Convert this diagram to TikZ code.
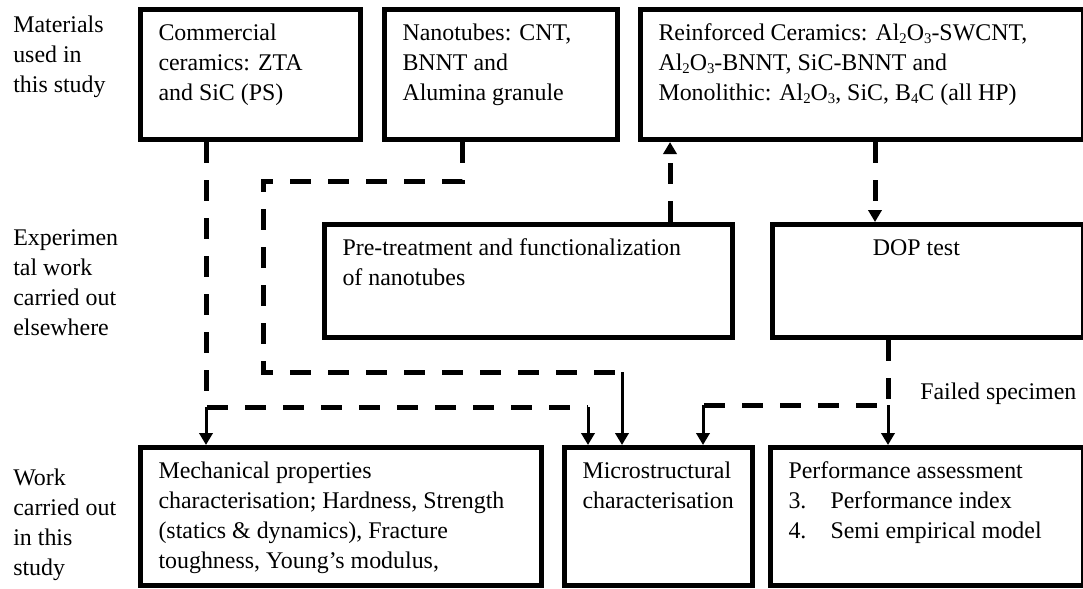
\documentclass[tikz,border=0pt]{standalone}
\usepackage{fontspec}
\setmainfont{Liberation Serif}
\usetikzlibrary{arrows.meta}
\newcommand{\boxtext}[3]{\parbox[t][\dimexpr#2-0.5cm\relax][t]{\dimexpr#1-0.9cm\relax}{\raggedright\strut#3}}
\newcommand{\lowsub}[1]{\raisebox{-0.25ex}{\fontsize{10.5}{10.5}\selectfont #1}}
\newcommand{\aloxide}{Al\lowsub{2}O\lowsub{3}}

\begin{document}
\begin{tikzpicture}
[x=0.025cm, y=-0.025cm, font=\fontsize{17}{21.3}\selectfont,
box/.style={draw, line width=0.125cm, inner xsep=0.45cm, inner ysep=0.25cm, anchor=north west},
lbl/.style={inner sep=0pt, anchor=north west, align=left},
dashline/.style={line width=0.125cm, dash pattern=on 0.525cm off 0.425cm},
arr/.style={line width=0.075cm, -{Triangle[width=0.33cm, length=0.3cm]}},
darr/.style={dashline, -{Triangle[width=0.33cm, length=0.3cm]}}]
\useasboundingbox (0,0) rectangle (1083,588);

\draw (13,11) node[lbl] (mat) {\strut Materials\\used in\\this study};
\draw (13,224) node[lbl] (exp) {\strut Experimen\\tal work\\carried out\\elsewhere};
\draw (13,464) node[lbl] (work) {\strut Work\\carried out\\in this\\study};

\draw (138,7) node[box] (com) {\boxtext{5.5cm}{3.25cm}{Commercial\\ceramics: ZTA\\and SiC (PS)}};
\draw (382,7) node[box] (nano) {\boxtext{5.825cm}{3.25cm}{Nanotubes: CNT,\\BNNT and\\Alumina granule}};
\draw (638,7) node[box] (reinf) {\boxtext{11.075cm}{3.25cm}{Reinforced Ceramics: \aloxide-SWCNT,\\\aloxide-BNNT, SiC-BNNT and\\Monolithic: \aloxide, SiC, B\lowsub{4}C (all HP)}};

\draw (322,222) node[box] (pre) {\boxtext{10.2cm}{2.825cm}{Pre-treatment and functionalization\\of nanotubes}};
\draw (770,222) node[box] (dop) {\boxtext{7.775cm}{2.825cm}{\hspace*{2.06cm}DOP test}};

\draw (138,445) node[box] (mech) {\boxtext{10.025cm}{3.45cm}{Mechanical properties\\characterisation; Hardness, Strength\\(statics \& dynamics), Fracture\\toughness, Young’s modulus,}};
\draw (562,445) node[box] (micro) {\boxtext{4.7cm}{3.45cm}{Microstructural\\characterisation}};
\draw (768,445) node[box] (perf) {\boxtext{7.825cm}{3.45cm}{Performance assessment\\\makebox[1.05cm][l]{3.}Performance index\\\makebox[1.05cm][l]{4.}Semi empirical model}};

\coordinate (c1) at (206,407);  \coordinate (c2) at (588,407);
\coordinate (n1) at (462,181);  \coordinate (n2) at (263,181);
\coordinate (n3) at (263,372);  \coordinate (n4) at (622,372);
\coordinate (p1) at (670,0);    \coordinate (r1) at (875,0);
\coordinate (d1) at (888,405);  \coordinate (d2) at (703,405);

\draw [dashline] (c1 |- com.south) -- (c1) -- (c2);
\draw [arr] (c1) -- (c1 |- mech.north);
\draw [arr] (c2) -- (c2 |- micro.north);

\draw [dashline] (n1 |- nano.south) -- (n1) -- (n2) -- (n3) -- (n4);
\draw [arr] (n4) -- (n4 |- micro.north);

\draw [darr] (p1 |- pre.north) -- (p1 |- reinf.south);
\draw [darr] (r1 |- reinf.south) -- (r1 |- dop.north);

\draw [dashline] (d1 |- dop.south) -- (d1) -- (d2);
\draw [arr] (d1) -- (d1 |- perf.north);
\draw [arr] (d2) -- (d2 |- micro.north);
\draw (920,399) node[anchor=base west, inner sep=0pt] (fail) {Failed specimen};
\end{tikzpicture}
\end{document}
